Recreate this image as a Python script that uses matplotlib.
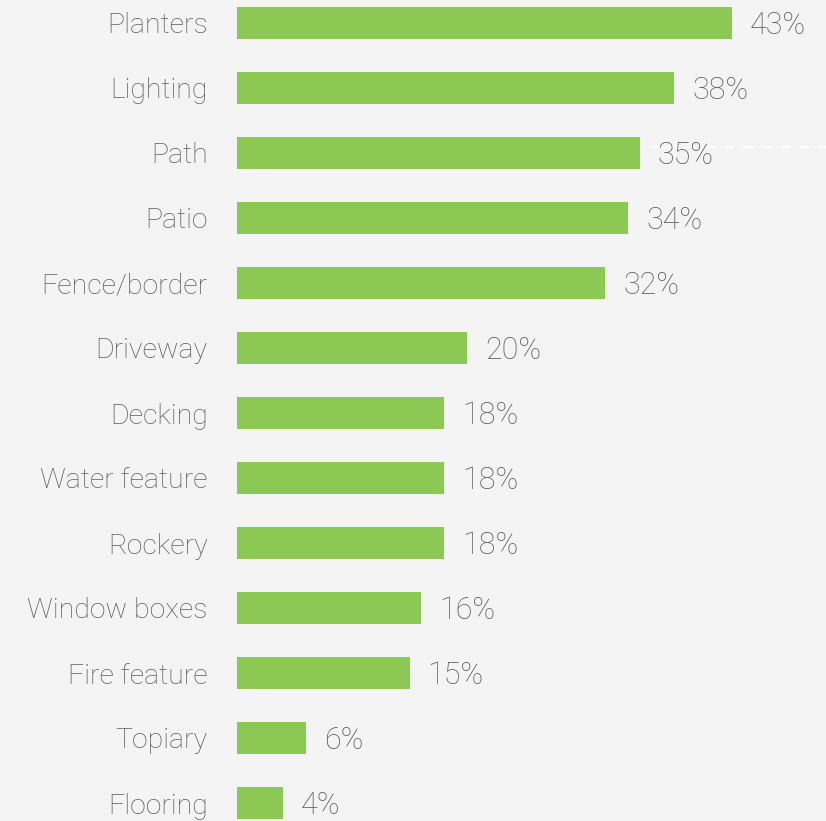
import matplotlib.pyplot as plt

categories = ["Planters", "Lighting", "Path", "Patio", "Fence/border", "Driveway",
              "Decking", "Water feature", "Rockery", "Window boxes", "Fire feature",
              "Topiary", "Flooring"]
values = [43, 38, 35, 34, 32, 20, 18, 18, 18, 16, 15, 6, 4]

bg = "#f4f4f4"
green = "#8bc954"
grey = "#5e5e5e"

plt.rcParams['font.family'] = ['Roboto', 'DejaVu Sans']

fig = plt.figure(figsize=(8.26, 8.21), dpi=100, facecolor=bg)
ax = fig.add_axes([237 / 826, 0, 1 - 237 / 826, 1], facecolor=bg)

y = list(range(len(categories)))
ax.axhline(1.91, color="white", lw=1.5, ls=(0, (5, 4)), zorder=0)
ax.barh(y, values, height=0.5, color=green, zorder=2)

for yi, v in zip(y, values):
    ax.text(v + 1.55, yi + 0.04, f"{v}%", va="center", ha="left", fontsize=22,
            color=grey, fontweight="light", zorder=3)

ax.set_yticks(y)
ax.set_yticklabels(categories, fontsize=20.5, color=grey, fontweight="light")
ax.tick_params(axis="y", length=0, pad=21)
ax.set_xticks([])
ax.set_xlim(0, 589 / 11.51)
ax.set_ylim((821 - 23) / 65, -23 / 65)
for s in ax.spines.values():
    s.set_visible(False)

fig.savefig("out.png", dpi=100, facecolor=bg)
